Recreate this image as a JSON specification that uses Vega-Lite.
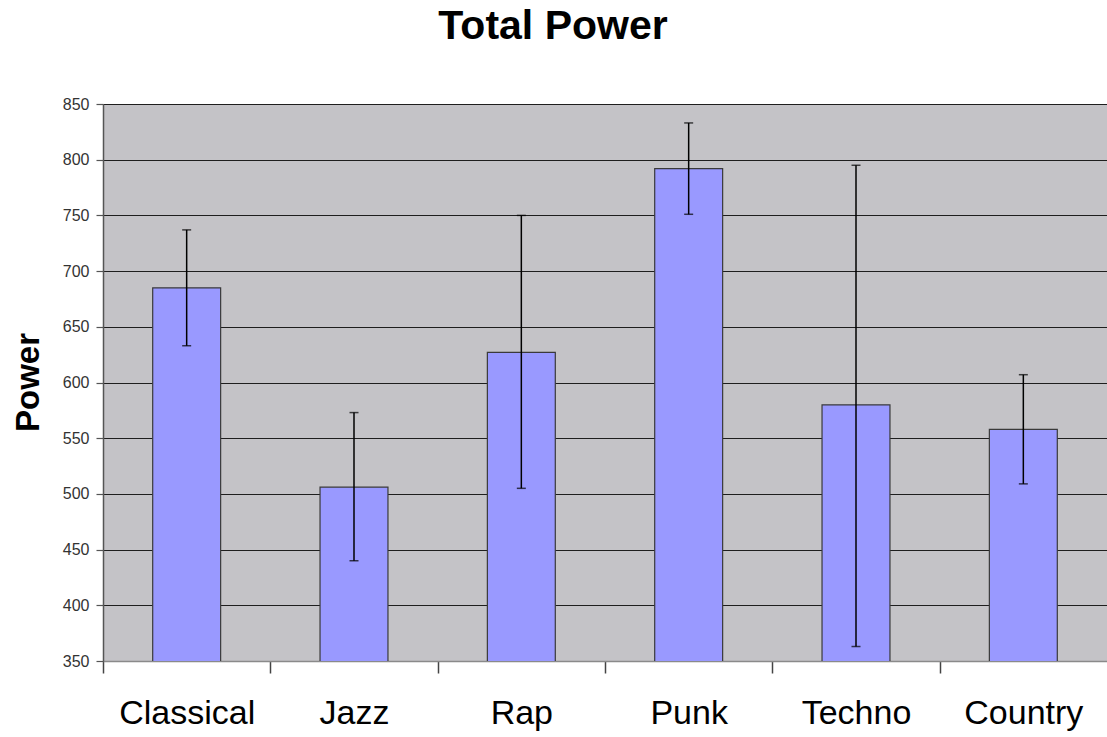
{
  "$schema": "https://vega.github.io/schema/vega-lite/v6.json",
  "width": 1004,
  "height": 557,
  "autosize": {"type": "none"},
  "padding": {"left": 103, "top": 104, "right": 0, "bottom": 76},
  "background": "white",
  "title": {
    "text": "Total Power",
    "font": "Liberation Sans",
    "fontSize": 41,
    "fontWeight": "bold",
    "color": "black",
    "anchor": "middle",
    "baseline": "alphabetic",
    "offset": 16,
    "dx": -52
  },
  "config": {
    "view": {"fill": "#C4C3C7", "stroke": "#A8A8A8", "strokeWidth": 1}
  },
  "data": {
    "values": [
      {"genre": "Classical", "power": 685, "lo": 633, "hi": 737},
      {"genre": "Jazz", "power": 506, "lo": 440, "hi": 573},
      {"genre": "Rap", "power": 627, "lo": 505, "hi": 750},
      {"genre": "Punk", "power": 792, "lo": 751, "hi": 833},
      {"genre": "Techno", "power": 580, "lo": 363, "hi": 795},
      {"genre": "Country", "power": 558, "lo": 509, "hi": 607}
    ]
  },
  "encoding": {
    "x": {
      "field": "genre",
      "type": "nominal",
      "sort": null,
      "scale": {"paddingInner": 0.594, "paddingOuter": 0.297},
      "axis": {
        "title": null,
        "labelAngle": 0,
        "labelFont": "Liberation Sans",
        "labelFontSize": 34,
        "labelColor": "black",
        "labelPadding": 23,
        "tickOffset": -83.67,
        "labelOffset": 83.67,
        "tickSize": 12,
        "tickColor": "#444",
        "tickWidth": 1.5,
        "domainColor": "#8A8A8A",
        "domainWidth": 1.5,
        "grid": false
      }
    }
  },
  "layer": [
    {
      "mark": {"type": "bar", "fill": "#9999FF", "stroke": "#3A3A3A", "strokeWidth": 1.2, "clip": true},
      "encoding": {
        "y": {
          "field": "power",
          "type": "quantitative",
          "scale": {"domain": [350, 850], "nice": false, "zero": false},
          "axis": {
            "title": "Power",
            "titleFont": "Liberation Sans",
            "titleFontSize": 33,
            "titleFontWeight": "bold",
            "titleColor": "black",
            "titleAngle": -90,
            "titleAlign": "center",
            "titleBaseline": "middle",
            "titleX": -75,
            "titleY": 278,
            "values": [350, 400, 450, 500, 550, 600, 650, 700, 750, 800, 850],
            "grid": true,
            "gridColor": "#1E1E1E",
            "gridWidth": 1.2,
            "domainColor": "#555",
            "domainWidth": 1.5,
            "tickColor": "#555",
            "tickSize": 7,
            "tickWidth": 1.2,
            "labelFont": "Liberation Sans",
            "labelFontSize": 16,
            "labelColor": "#333",
            "labelPadding": 7
          }
        }
      }
    },
    {
      "mark": {"type": "rule", "color": "black", "strokeWidth": 1.5},
      "encoding": {
        "y": {"field": "lo", "type": "quantitative"},
        "y2": {"field": "hi"}
      }
    },
    {
      "mark": {"type": "tick", "color": "black", "size": 9, "thickness": 1.5},
      "encoding": {"y": {"field": "lo", "type": "quantitative"}}
    },
    {
      "mark": {"type": "tick", "color": "black", "size": 9, "thickness": 1.5},
      "encoding": {"y": {"field": "hi", "type": "quantitative"}}
    }
  ]
}
